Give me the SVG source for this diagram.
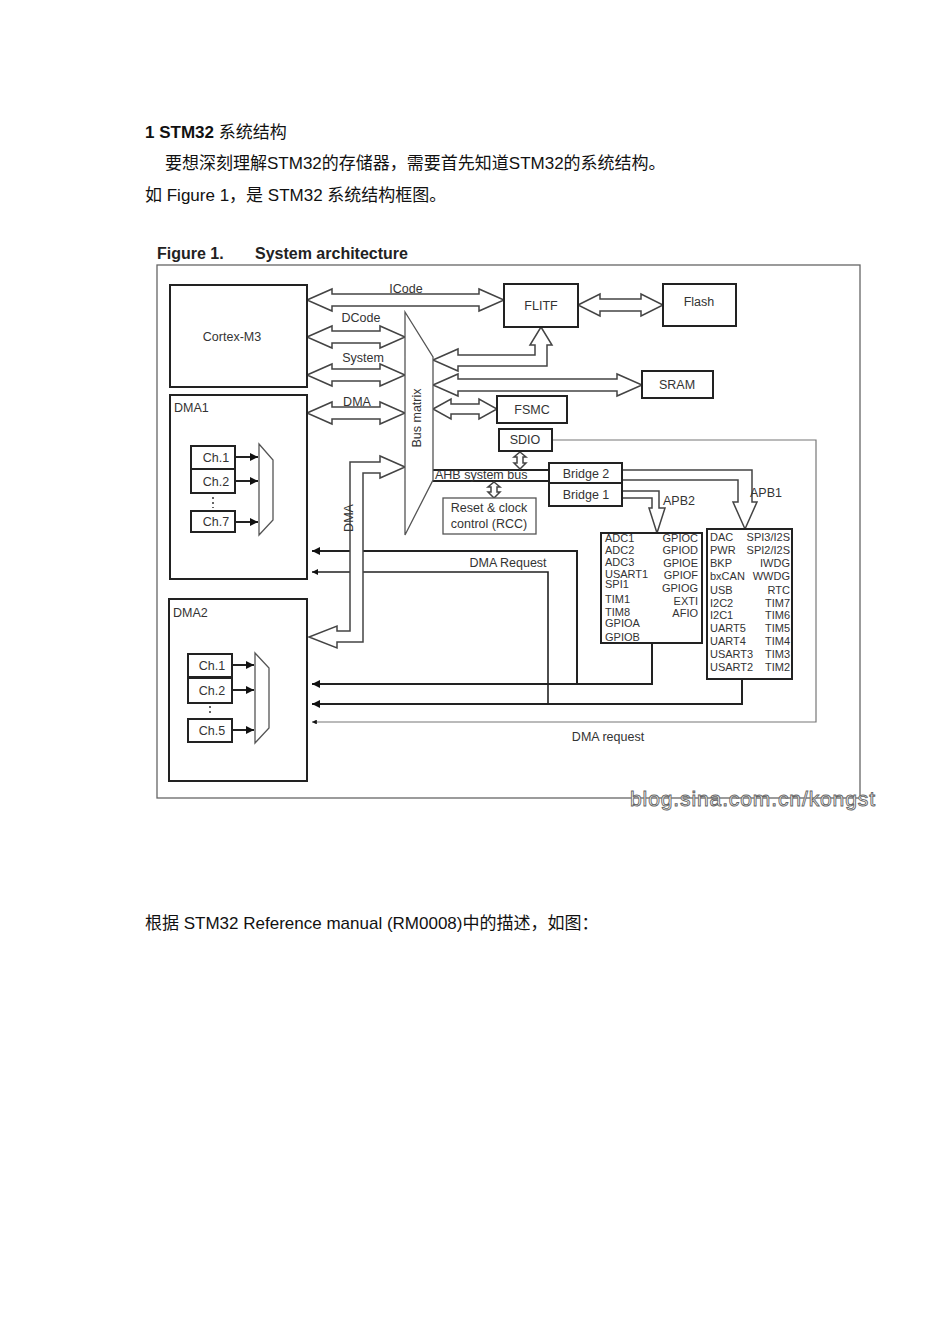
<svg xmlns="http://www.w3.org/2000/svg" width="950" height="1344" viewBox="0 0 950 1344">
<style>
text{font-family:"Liberation Sans",Arial,sans-serif;fill:#333}
.cn{font-family:"Liberation Sans","Noto Sans CJK SC",sans-serif;font-size:17px;fill:#111}
.b{fill:#fff;stroke:#222;stroke-width:2}
.g{fill:#fff;stroke:#555;stroke-width:1.3}
.h{fill:#fff;stroke:#444;stroke-width:1.5}
.l{font-size:12.5px}
.p{font-size:11px}
.w{fill:none;stroke:#222;stroke-width:2}
.t{fill:none;stroke:#777;stroke-width:1.2}
</style>
<defs>
<marker id="a" viewBox="0 0 10 10" refX="10" refY="5" markerWidth="4" markerHeight="4" orient="auto"><path d="M0,0L10,5L0,10z" fill="#111"/></marker>
</defs>
<rect width="950" height="1344" fill="#fff"/>
<text class="cn" x="145" y="138"><tspan font-weight="bold">1 STM32</tspan> 系统结构</text>
<text class="cn" x="165" y="169">要想深刻理解STM32的存储器，需要首先知道STM32的系统结构。</text>
<text class="cn" x="145" y="201">如 Figure 1，是 STM32 系统结构框图。</text>
<text class="cn" x="145" y="929">根据 STM32 Reference manual (RM0008)中的描述，如图：</text>

<text x="157" y="259" font-size="16" font-weight="bold" style="fill:#222">Figure 1.</text>
<text x="255" y="259" font-size="16" font-weight="bold" style="fill:#222">System architecture</text>
<rect x="157" y="265" width="703" height="533" fill="none" stroke="#666" stroke-width="1.3"/>

<g id="connectors">
<polygon class="h" points="307,300 332,289 332,294 479,294 479,289 504,300 479,311 479,306 332,306 332,311"/>
<polygon class="h" points="307,337 332,326 332,331 380,331 380,326 405,337 380,348 380,343 332,343 332,348"/>
<polygon class="h" points="307,375 332,364 332,369 380,369 380,364 405,375 380,386 380,381 332,381 332,386"/>
<polygon class="h" points="307,413 332,402 332,407 380,407 380,402 405,413 380,424 380,419 332,419 332,424"/>
<polygon class="h" points="578,305 600,294 600,299 641,299 641,294 663,305 641,316 641,311 600,311 600,316"/>
<polygon class="h" points="433,360 458,349 458,355 535,355 535,345 530,345 541,327 552,345 547,345 547,366 458,366 458,371"/>
<polygon class="h" points="433,385 458,374 458,379 617,379 617,374 642,385 617,396 617,391 458,391 458,396"/>
<polygon class="h" points="433,409 451,399 451,404 479,404 479,399 497,409 479,419 479,414 451,414 451,419"/>
<line x1="433" y1="470" x2="549" y2="470" stroke="#222" stroke-width="2"/>
<line x1="433" y1="481" x2="549" y2="481" stroke="#222" stroke-width="2"/>
<polygon class="h" points="520,452 526,457 523,457 523,463 526,463 520,469 514,463 517,463 517,457 514,457"/>
<polygon class="h" points="494,482 500,487 497,487 497,492 500,492 494,498 488,492 491,492 491,487 488,487"/>
<path class="h" d="M622,470H752V502H757L745,529L733,502H738V480H622"/>
<path class="h" d="M622,491H659V508H665L657,533L649,508H652V498H622"/>
<path class="t" d="M552,440H816V722H312" marker-end="url(#a)"/>
<path class="w" d="M652,643V684H312" marker-end="url(#a)"/>
<path class="w" d="M577,684V551H312" marker-end="url(#a)"/>
<path class="w" d="M742,679V704H312" marker-end="url(#a)"/>
<path class="w" d="M548,704V572H312" marker-end="url(#a)" style="stroke-width:1.6"/>
<path class="h" d="M405,467L380,456V462H350V631H337V626L309,637L337,648V642H363V473H380V478Z"/>
</g>

<text class="l" x="406" y="293" text-anchor="middle">ICode</text>
<text class="l" x="361" y="322" text-anchor="middle">DCode</text>
<text class="l" x="363" y="362" text-anchor="middle">System</text>
<text class="l" x="357" y="406" text-anchor="middle">DMA</text>
<text class="l" transform="translate(353,518) rotate(-90)" text-anchor="middle">DMA</text>
<text class="l" x="435" y="479">AHB system bus</text>
<text class="l" x="663" y="505">APB2</text>
<text class="l" x="750" y="497">APB1</text>
<text class="l" x="508" y="567" text-anchor="middle">DMA Request</text>
<text class="l" x="608" y="741" text-anchor="middle">DMA request</text>

<g id="cortex"><rect class="b" x="170" y="285" width="137" height="102"/><text class="l" x="232" y="341" text-anchor="middle">Cortex-M3</text></g>
<g id="busmatrix"><polygon class="g" points="405,312 433,357 433,480 405,535"/><text class="l" transform="translate(421,418) rotate(-90)" text-anchor="middle">Bus matrix</text></g>
<g id="flitf"><rect class="b" x="504" y="284" width="74" height="43"/><text class="l" x="541" y="310" text-anchor="middle">FLITF</text></g>
<g id="flash"><rect class="b" x="663" y="284" width="73" height="42"/><text class="l" x="699" y="306" text-anchor="middle">Flash</text></g>
<g id="sram"><rect class="b" x="642" y="371" width="71" height="27"/><text class="l" x="677" y="389" text-anchor="middle">SRAM</text></g>
<g id="fsmc"><rect class="b" x="497" y="396" width="70" height="27"/><text class="l" x="532" y="414" text-anchor="middle">FSMC</text></g>
<g id="sdio"><rect class="b" x="499" y="429" width="53" height="22"/><text class="l" x="525" y="444" text-anchor="middle">SDIO</text></g>
<g id="bridge2"><rect class="b" x="549" y="463" width="73" height="20"/><text class="l" x="586" y="478" text-anchor="middle">Bridge  2</text></g>
<g id="bridge1"><rect class="b" x="549" y="483" width="73" height="23"/><text class="l" x="586" y="499" text-anchor="middle">Bridge  1</text></g>
<g id="rcc"><rect class="g" x="443" y="498" width="93" height="36"/><text class="l" x="489" y="512" text-anchor="middle">Reset &amp; clock</text><text class="l" x="489" y="528" text-anchor="middle">control (RCC)</text></g>

<g id="apb2">
<rect class="b" x="601" y="533" width="101" height="110"/>
<g class="p">
<text x="605" y="542">ADC1</text><text x="605" y="554">ADC2</text><text x="605" y="566">ADC3</text><text x="605" y="578">USART1</text><text x="605" y="588">SPI1</text><text x="605" y="603">TIM1</text><text x="605" y="616">TIM8</text><text x="605" y="627">GPIOA</text><text x="605" y="641">GPIOB</text>
<text x="698" y="542" text-anchor="end">GPIOC</text><text x="698" y="554" text-anchor="end">GPIOD</text><text x="698" y="567" text-anchor="end">GPIOE</text><text x="698" y="579" text-anchor="end">GPIOF</text><text x="698" y="592" text-anchor="end">GPIOG</text><text x="698" y="605" text-anchor="end">EXTI</text><text x="698" y="617" text-anchor="end">AFIO</text>
</g></g>
<g id="apb1">
<rect class="b" x="707" y="529" width="85" height="150"/>
<g class="p">
<text x="710" y="541">DAC</text><text x="710" y="554">PWR</text><text x="710" y="567">BKP</text><text x="710" y="580">bxCAN</text><text x="710" y="594">USB</text><text x="710" y="607">I2C2</text><text x="710" y="619">I2C1</text><text x="710" y="632">UART5</text><text x="710" y="645">UART4</text><text x="710" y="658">USART3</text><text x="710" y="671">USART2</text>
<text x="790" y="541" text-anchor="end">SPI3/I2S</text><text x="790" y="554" text-anchor="end">SPI2/I2S</text><text x="790" y="567" text-anchor="end">IWDG</text><text x="790" y="580" text-anchor="end">WWDG</text><text x="790" y="594" text-anchor="end">RTC</text><text x="790" y="607" text-anchor="end">TIM7</text><text x="790" y="619" text-anchor="end">TIM6</text><text x="790" y="632" text-anchor="end">TIM5</text><text x="790" y="645" text-anchor="end">TIM4</text><text x="790" y="658" text-anchor="end">TIM3</text><text x="790" y="671" text-anchor="end">TIM2</text>
</g></g>

<g id="dma1">
<rect class="b" x="170" y="395" width="137" height="184"/>
<text class="l" x="174" y="412">DMA1</text>
<rect class="b" x="191" y="446" width="44" height="23"/><text class="l" x="216" y="462" text-anchor="middle">Ch.1</text>
<rect class="b" x="191" y="469" width="44" height="24"/><text class="l" x="216" y="486" text-anchor="middle">Ch.2</text>
<rect class="b" x="191" y="511" width="44" height="21"/><text class="l" x="216" y="526" text-anchor="middle">Ch.7</text>
<path d="M213,497V508" stroke="#333" stroke-width="1.5" stroke-dasharray="2,3"/>
<polygon class="g" points="259,444 273,460 273,520 259,535"/>
<line class="w" x1="235" y1="457" x2="258" y2="457" marker-end="url(#a)"/>
<line class="w" x1="235" y1="481" x2="258" y2="481" marker-end="url(#a)"/>
<line class="w" x1="235" y1="522" x2="258" y2="522" marker-end="url(#a)"/>
</g>
<g id="dma2">
<rect class="b" x="169" y="599" width="138" height="182"/>
<text class="l" x="173" y="617">DMA2</text>
<rect class="b" x="188" y="654" width="44" height="23"/><text class="l" x="212" y="670" text-anchor="middle">Ch.1</text>
<rect class="b" x="188" y="678" width="44" height="25"/><text class="l" x="212" y="695" text-anchor="middle">Ch.2</text>
<rect class="b" x="188" y="719" width="44" height="23"/><text class="l" x="212" y="735" text-anchor="middle">Ch.5</text>
<path d="M210,706V716" stroke="#333" stroke-width="1.5" stroke-dasharray="2,3"/>
<polygon class="g" points="255,653 269,668 269,728 255,743"/>
<line class="w" x1="232" y1="665" x2="254" y2="665" marker-end="url(#a)"/>
<line class="w" x1="232" y1="690" x2="254" y2="690" marker-end="url(#a)"/>
<line class="w" x1="232" y1="730" x2="254" y2="730" marker-end="url(#a)"/>
</g>
<text x="630" y="806" font-size="21" textLength="245" style="fill:#fff;stroke:#666;stroke-width:0.9">blog.sina.com.cn/kongst</text>
</svg>
